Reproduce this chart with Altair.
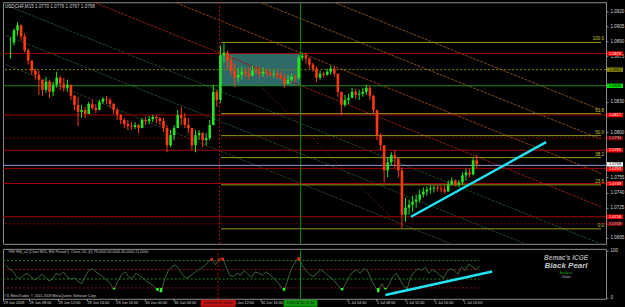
import altair as alt
import pandas as pd

FONT = "Liberation Sans"

# ---------------- data ----------------
# 30-minute bars, time in hours from 29 Jun 2009 00:00
T0 = 4.75
STEP = 0.5
closes = [1.0889, 1.0901, 1.0906, 1.0895, 1.0881, 1.0871, 1.0861, 1.0857, 1.0852, 1.0842,
          1.0850, 1.0840, 1.0847, 1.0854, 1.0848, 1.0844, 1.0847, 1.0836, 1.0827, 1.0820,
          1.0822, 1.0818, 1.0828, 1.0824, 1.0822, 1.0830, 1.0833, 1.0832, 1.0828, 1.0822,
          1.0817, 1.0812, 1.0808, 1.0806, 1.0805, 1.0807, 1.0804, 1.0812, 1.0811, 1.0813,
          1.0815, 1.0814, 1.0811, 1.0804, 1.0787, 1.0797, 1.0804, 1.0817, 1.0814, 1.0807,
          1.0804, 1.0787, 1.0797, 1.0799, 1.0792, 1.0794, 1.0807, 1.0840, 1.0832, 1.0876,
          1.0879, 1.0871, 1.0861, 1.0854, 1.0857, 1.0860, 1.0858, 1.0856, 1.0861, 1.0860,
          1.0858, 1.0860, 1.0859, 1.0857, 1.0858, 1.0856, 1.0854, 1.0848, 1.0852, 1.0855,
          1.0854, 1.0874, 1.0876, 1.0873, 1.0867, 1.0863, 1.0854, 1.0858, 1.0857, 1.0860,
          1.0863, 1.0858, 1.0840, 1.0827, 1.0832, 1.0834, 1.0840, 1.0837, 1.0838, 1.0840,
          1.0844, 1.0836, 1.0822, 1.0797, 1.0787, 1.0762, 1.0770, 1.0777, 1.0774, 1.0762,
          1.0718, 1.0725, 1.0728, 1.0731, 1.0733, 1.0738, 1.0741, 1.0743, 1.0744, 1.0745,
          1.0744, 1.0743, 1.0741, 1.0748, 1.0752, 1.0748, 1.0750, 1.0757, 1.0760, 1.0758,
          1.0772, 1.0768]
highs = [1.0894, 1.0903, 1.0909, 1.0907, 1.0898, 1.0883, 1.0871, 1.0863, 1.0861, 1.0852,
         1.0855, 1.0852, 1.0850, 1.0860, 1.0856, 1.0854, 1.0852, 1.0846, 1.0837, 1.0835,
         1.0827, 1.0825, 1.0830, 1.0832, 1.0828, 1.0832, 1.0835, 1.0836, 1.0834, 1.0829,
         1.0824, 1.0818, 1.0814, 1.0812, 1.0810, 1.0810, 1.0808, 1.0814, 1.0815, 1.0816,
         1.0817, 1.0817, 1.0815, 1.0814, 1.0807, 1.0802, 1.0807, 1.0822, 1.0825, 1.0819,
         1.0814, 1.0804, 1.0802, 1.0802, 1.0800, 1.0799, 1.0812, 1.0847, 1.0842, 1.0886,
         1.0888, 1.0881, 1.0876, 1.0868, 1.0864, 1.0865, 1.0864, 1.0865, 1.0866, 1.0866,
         1.0865, 1.0864, 1.0863, 1.0861, 1.0861, 1.0861, 1.0860, 1.0858, 1.0857, 1.0858,
         1.0857, 1.0876, 1.0879, 1.0879, 1.0874, 1.0869, 1.0865, 1.0861, 1.0860, 1.0863,
         1.0866, 1.0865, 1.0857, 1.0839, 1.0837, 1.0838, 1.0844, 1.0843, 1.0842, 1.0844,
         1.0847, 1.0846, 1.0837, 1.0819, 1.0799, 1.0780, 1.0775, 1.0780, 1.0782, 1.0774,
         1.0765, 1.0735, 1.0733, 1.0737, 1.0738, 1.0743, 1.0745, 1.0746, 1.0747, 1.0747,
         1.0747, 1.0747, 1.0747, 1.0752, 1.0755, 1.0753, 1.0752, 1.0760, 1.0764, 1.0764,
         1.0774, 1.0777]
lows = [1.0873, 1.0886, 1.0896, 1.0891, 1.0879, 1.0867, 1.0857, 1.0852, 1.0837, 1.0836,
        1.0839, 1.0834, 1.0836, 1.0844, 1.0842, 1.0840, 1.0840, 1.0832, 1.0822, 1.0806,
        1.0814, 1.0814, 1.0820, 1.0822, 1.0819, 1.0824, 1.0828, 1.0828, 1.0824, 1.0818,
        1.0812, 1.0808, 1.0804, 1.0802, 1.0802, 1.0803, 1.0799, 1.0805, 1.0807, 1.0808,
        1.0810, 1.0809, 1.0807, 1.0800, 1.0780, 1.0785, 1.0792, 1.0806, 1.0807, 1.0804,
        1.0799, 1.0782, 1.0780, 1.0792, 1.0785, 1.0787, 1.0792, 1.0817, 1.0825, 1.0829,
        1.0869, 1.0863, 1.0857, 1.0845, 1.0850, 1.0852, 1.0854, 1.0852, 1.0855, 1.0857,
        1.0854, 1.0855, 1.0855, 1.0855, 1.0854, 1.0853, 1.0852, 1.0844, 1.0849, 1.0850,
        1.0850, 1.0852, 1.0871, 1.0868, 1.0863, 1.0860, 1.0850, 1.0852, 1.0854, 1.0856,
        1.0857, 1.0855, 1.0835, 1.0817, 1.0825, 1.0828, 1.0834, 1.0833, 1.0832, 1.0835,
        1.0837, 1.0832, 1.0819, 1.0792, 1.0782, 1.0750, 1.0755, 1.0767, 1.0765, 1.0755,
        1.0705, 1.0711, 1.0718, 1.0721, 1.0725, 1.0730, 1.0735, 1.0737, 1.0739, 1.0740,
        1.0741, 1.0740, 1.0739, 1.0743, 1.0747, 1.0746, 1.0746, 1.0748, 1.0752, 1.0755,
        1.0757, 1.0764]
rsi = [70, 62, 58, 45, 40, 48, 52, 45, 38, 42,
       50, 44, 36, 40, 52, 48, 55, 45, 40, 42,
       35, 30, 45, 58, 62, 55, 50, 44, 38, 30,
       18, 35, 48, 55, 45, 40, 52, 48, 42, 36,
       30, 25, 15, 12, 40, 58, 66, 70, 60, 48,
       42, 46, 52, 58, 62, 68, 75, 84, 70, 82,
       85, 65, 48, 45, 52, 48, 58, 50, 44, 55,
       52, 48, 55, 50, 42, 35, 25, 15, 38, 62,
       75, 86, 70, 58, 50, 45, 52, 60, 55, 48,
       42, 35, 25, 16, 30, 45, 55, 60, 52, 62,
       58, 40, 25, 12, 30, 18, 28, 45, 52, 40,
       25, 20, 45, 55, 62, 58, 65, 52, 60, 55,
       48, 42, 55, 62, 58, 50, 65, 58, 72, 66,
       60, 68]

price_ticks = [1.0920, 1.0905, 1.0890, 1.0875, 1.0830, 1.0800, 1.0755, 1.0740, 1.0725, 1.0695]
time_ticks = [4.42, 8, 12, 16, 20, 24, 28, 36, 40, 52, 56, 60, 64, 68]

# horizontal levels
h_solid_p = [1.0878, 1.0846, 1.0817, 1.0782, 1.0764, 1.0749, 1.0716]
h_solid_c = ["#a00000", "#1e8c1e", "#a00000", "#a00000", "#a00000", "#a00000", "#a00000"]
h_dot_p = [1.0862, 1.0794, 1.0709]
h_dot_c = ["#8a8a00", "#800000", "#800000"]
bid_p = [1.0767]

# fibonacci
fib_hi, fib_lo = 1.0889, 1.0704
fib_levels = [100.0, 61.8, 50.0, 38.2, 23.6, 0.0]
fib_start = 34.34

# diagonal channel lines (t1, p1, t2, p2)
diag_p1 = [1.1060, 1.1030, 1.0996, 1.0964, 1.0926, 1.0896, 1.0867]
diag_p2 = [1.0822, 1.0793, 1.0759, 1.0726, 1.0689, 1.0659, 1.0629]
diag_c = ["#7a4a1e", "#7a4a1e", "#8a3c14", "#8c1e14", "#1e4628", "#1e4628", "#2a3a2a"]
diag_t = [4.14, 87.72]
steep_t = [39.59, 59.72]
steep_p = [1.0848, 1.0705]

# box
box_t = [34.11, 45.52]
box_p = [1.0878, 1.0846]

# vertical markers
vred_t = 34.11
vgreen_t = 45.52

# trend lines
trend_t = [61.01, 80.0]
trend_p = [1.0716, 1.0790]
rsi_trend_t = [57.24, 72.0]
rsi_trend_r = [6, 56]

# right-side price tags
tag_p = [1.0878, 1.0862, 1.0846, 1.0817, 1.0794, 1.0782, 1.0768, 1.0763, 1.0749, 1.0716, 1.0709]
tag_bg = ["#ff0000", "#8a8a00", "#00e000", "#ff0000", "#800000", "#ff0000", "#ffffff", "#ff0000", "#ff0000", "#ff0000", "#800000"]
tag_fg = ["#ffffff", "#000000", "#000000", "#ffffff", "#c0c0c0", "#ffffff", "#000000", "#ffffff", "#ffffff", "#ffffff", "#c0c0c0"]

# ---------------- tables ----------------
bars = pd.DataFrame({"t": [T0 + STEP * i for i in range(len(closes))], "c": closes, "h": highs, "l": lows})
bars["o"] = [closes[0]] + closes[:-1]
bars["h"] = bars[["h", "o", "c"]].max(axis=1)
bars["l"] = bars[["l", "o", "c"]].min(axis=1)
rsi_df = pd.DataFrame({"t": [T0 + STEP * i for i in range(len(rsi))], "r": rsi})

XDOM = [4.41, 87.72]
YDOM = [1.06891, 1.09289]
xs = alt.Scale(domain=XDOM, nice=False, zero=False)
ys = alt.Scale(domain=YDOM, nice=False, zero=False)
yax = alt.Axis(orient="right", values=price_ticks, format=".4f", labelFontSize=4.5,
               labelColor="#d8d8d8", labelFont=FONT, tickSize=2, tickColor="#808080",
               domain=False, grid=False, labelPadding=2, title=None)


def X(f):
    return alt.X(f"{f}:Q", scale=xs, axis=None)


def Y(f):
    return alt.Y(f"{f}:Q", scale=ys, axis=yax)


box = alt.Chart(pd.DataFrame({"t1": [box_t[0]], "t2": [box_t[1]], "p1": [box_p[0]], "p2": [box_p[1]]})).mark_rect(
    color="#33706e", opacity=0.95).encode(x=X("t1"), x2="t2", y=Y("p1"), y2="p2")

diag_df = pd.DataFrame({"p1": diag_p1, "p2": diag_p2, "c": diag_c})
diag_df["t1"] = diag_t[0]
diag_df["t2"] = diag_t[1]
diag = alt.Chart(diag_df).mark_rule(clip=True, strokeWidth=1, strokeDash=[3, 1]).encode(
    x=X("t1"), x2="t2", y=Y("p1"), y2="p2", color=alt.Color("c:N", scale=None))

steep = alt.Chart(pd.DataFrame({"t1": [steep_t[0]], "t2": [steep_t[1]], "p1": [steep_p[0]], "p2": [steep_p[1]]})).mark_rule(
    clip=True, strokeWidth=1, strokeDash=[1, 2], color="#8c1e1e").encode(x=X("t1"), x2="t2", y=Y("p1"), y2="p2")

hsolid = alt.Chart(pd.DataFrame({"p": h_solid_p, "c": h_solid_c})).mark_rule(strokeWidth=1).encode(
    y=Y("p"), color=alt.Color("c:N", scale=None))
hdot = alt.Chart(pd.DataFrame({"p": h_dot_p, "c": h_dot_c})).mark_rule(strokeWidth=1, strokeDash=[2, 2]).encode(
    y=Y("p"), color=alt.Color("c:N", scale=None))
bid = alt.Chart(pd.DataFrame({"p": bid_p})).mark_rule(strokeWidth=1, color="#9a96d8").encode(y=Y("p"))

fib_df = pd.DataFrame({"lev": fib_levels})
fib_df["p"] = fib_lo + fib_df["lev"] / 100.0 * (fib_hi - fib_lo)
fib_df["t1"] = fib_start
fib_df["t2"] = XDOM[1]
fib_df["lab"] = fib_df["lev"].map(lambda v: f"{v:.1f}")
fib = alt.Chart(fib_df).mark_rule(strokeWidth=1, color="#9a9a1a").encode(x=X("t1"), x2="t2", y=Y("p"))
fibtxt = alt.Chart(fib_df).mark_text(align="right", baseline="bottom", fontSize=4.5, font=FONT,
                                     color="#c8c832", dy=-1).encode(x=alt.value(602), y=Y("p"), text="lab:N")

vlines = alt.Chart(pd.DataFrame({"t": [vred_t]})).mark_rule(strokeDash=[2, 2], color="#b01010").encode(x=X("t"))
vlineg = alt.Chart(pd.DataFrame({"t": [vgreen_t]})).mark_rule(color="#0f8f0f").encode(x=X("t"))

color_cond = alt.condition("datum.c >= datum.o", alt.value("#22e622"), alt.value("#ff3a10"))
wick = alt.Chart(bars).mark_rule(strokeWidth=1).encode(x=X("t"), y=Y("l"), y2="h", color=color_cond)
body = alt.Chart(bars).mark_bar(size=2.6).encode(x=X("t"), y=Y("o"), y2="c", color=color_cond)

trend = alt.Chart(pd.DataFrame({"t1": [trend_t[0]], "t2": [trend_t[1]], "p1": [trend_p[0]], "p2": [trend_p[1]]})).mark_rule(
    strokeWidth=2.5, color="#20e4f4").encode(x=X("t1"), x2="t2", y=Y("p1"), y2="p2")

tags_df = pd.DataFrame({"p": tag_p, "bg": tag_bg, "fg": tag_fg})
tags_df["pa"] = tags_df["p"] + 0.00022
tags_df["pb"] = tags_df["p"] - 0.00022
tags_df["lab"] = tags_df["p"].map(lambda v: f"{v:.4f}")
tags = alt.Chart(tags_df).mark_rect(clip=False).encode(
    x=alt.value(605), x2=alt.value(621), y=Y("pa"), y2="pb", color=alt.Color("bg:N", scale=None))
tagtxt = alt.Chart(tags_df).mark_text(clip=False, fontSize=4.0, font=FONT, align="center", baseline="middle").encode(
    x=alt.value(613), y=Y("p"), text="lab:N", color=alt.Color("fg:N", scale=None))

title = alt.Chart(pd.DataFrame({"s": ["USDCHF,M15  1.0770 1.0776 1.0767 1.0768"]})).mark_text(
    align="left", baseline="top", fontSize=4.6, font=FONT, color="#d0d0d0").encode(
    x=alt.value(2), y=alt.value(2), text="s:N")

main = alt.layer(box, diag, steep, hsolid, hdot, fib, vlines, vlineg, bid, wick, body, trend,
                 fibtxt, tags, tagtxt, title).properties(width=604, height=242)

# ---------------- RSI panel ----------------
rxs = xs
rys = alt.Scale(domain=[-2, 104], nice=False, zero=False)
ryax = alt.Axis(orient="right", values=[0, 100], labelFontSize=4.5, labelColor="#d8d8d8", labelFont=FONT,
                tickSize=2, tickColor="#808080", domain=False, grid=False, labelPadding=2, title=None)
label_expr = ("datum.value < 6 ? '29 Jun 2009' : ((datum.value < 24 ? '29 Jun ' : (datum.value < 48 ? '30 Jun ' : '1 Jul '))"
              " + (datum.value % 24 < 10 ? '0' : '') + (datum.value % 24) + ':00')")
xax = alt.Axis(values=time_ticks, labelExpr=label_expr, labelAlign="left", labelFontSize=3.8, labelFont=FONT,
               labelColor="#d8d8d8", tickSize=2, tickColor="#a0a0a0", labelPadding=0, domain=False, grid=False,
               labelOverlap=False, labelFlush=False, labelBound=False, title=None)

levels = pd.DataFrame({"r": [79, 60, 40, 21], "c": ["#1e8c1e", "#8c1414", "#1e8c1e", "#8c1414"]})
levels["t1"] = XDOM[0]
levels["t2"] = rsi_df["t"].iloc[-1]
lev = alt.Chart(levels).mark_rule(strokeDash=[2, 2], strokeWidth=1).encode(
    x=alt.X("t1:Q", scale=rxs, axis=xax), x2="t2", y=alt.Y("r:Q", scale=rys, axis=ryax),
    color=alt.Color("c:N", scale=None))
rline = alt.Chart(rsi_df).mark_line(strokeWidth=1, color="#3a623a").encode(
    x=alt.X("t:Q", scale=rxs, axis=xax), y=alt.Y("r:Q", scale=rys, axis=ryax))
rhi = alt.Chart(rsi_df).transform_filter("datum.r > 79").mark_rule(strokeWidth=2.5, color="#ff2020").encode(
    x=alt.X("t:Q", scale=rxs, axis=xax), y=alt.Y("r:Q", scale=rys, axis=ryax), y2=alt.datum(79))
rlo = alt.Chart(rsi_df).transform_filter("datum.r < 21").mark_rule(strokeWidth=2.5, color="#30f030").encode(
    x=alt.X("t:Q", scale=rxs, axis=xax), y=alt.Y("r:Q", scale=rys, axis=ryax), y2=alt.datum(21))
rv1 = alt.Chart(pd.DataFrame({"t": [vred_t]})).mark_rule(strokeDash=[2, 2], color="#b01010").encode(
    x=alt.X("t:Q", scale=rxs, axis=xax))
rv2 = alt.Chart(pd.DataFrame({"t": [vgreen_t]})).mark_rule(color="#0f8f0f").encode(x=alt.X("t:Q", scale=rxs, axis=xax))
rtrend = alt.Chart(pd.DataFrame({"t1": [rsi_trend_t[0]], "t2": [rsi_trend_t[1]], "r1": [rsi_trend_r[0]],
                                 "r2": [rsi_trend_r[1]]})).mark_rule(strokeWidth=2.5, color="#20e4f4").encode(
    x=alt.X("t1:Q", scale=rxs, axis=xax), x2="t2", y=alt.Y("r1:Q", scale=rys, axis=ryax), y2="r2")

# time boxes below the axis
tbox = pd.DataFrame({"t1": [31.72, 43.17], "t2": [36.55, 47.86], "bg": ["#c01010", "#109a10"],
                     "lab": ["2009.06.30 10:00", "2009.06.30 21:30"]})
tboxr = alt.Chart(tbox).mark_rect(clip=False).encode(
    x=alt.X("t1:Q", scale=rxs, axis=xax), x2="t2", y=alt.value(51), y2=alt.value(58),
    color=alt.Color("bg:N", scale=None))
tboxt = alt.Chart(tbox).transform_calculate(tm="(datum.t1 + datum.t2) / 2").mark_text(
    clip=False, fontSize=3.6, font=FONT, color="#101010", baseline="middle").encode(
    x=alt.X("tm:Q", scale=rxs, axis=xax), y=alt.value(54.5), text="lab:N")

texts = pd.DataFrame({
    "s": ["THV RSI_v2  (Chart M15,  RSI Period 5,  Close,  05,  (0)    79.0000 60.0000 40.0000 21.0000",
          "©3, MetaTrader, © 2001-2009 MetaQuotes Software Corp."],
    "x": [5, 1], "y": [3, 47]})
rtext = alt.Chart(texts).mark_text(align="left", baseline="middle", fontSize=3.6, font=FONT, color="#c8c8c8").encode(
    x=alt.X("x:Q", scale=None), y=alt.Y("y:Q", scale=None), text="s:N")

wm_bold = pd.DataFrame({"s": ["Bemac's ICGE", "Black Pearl"], "y": [9.5, 17], "fs": [6.5, 8],
                        "c": ["#a8a8a8", "#c8c8c8"]})
wm_small = pd.DataFrame({"s": ["Analysis", "Chart"], "y": [24.2, 28.2], "fs": [3.6, 3.6], "c": ["#10a010", "#c0c0c0"]})
wmt1 = alt.Chart(wm_bold).mark_text(align="center", baseline="middle", font=FONT, fontStyle="italic",
                                    fontWeight="bold").encode(
    x=alt.value(564), y=alt.Y("y:Q", scale=None), text="s:N", size=alt.Size("fs:Q", scale=None),
    color=alt.Color("c:N", scale=None))
wmt2 = alt.Chart(wm_small).mark_text(align="center", baseline="middle", font=FONT).encode(
    x=alt.value(564), y=alt.Y("y:Q", scale=None), text="s:N", size=alt.Size("fs:Q", scale=None),
    color=alt.Color("c:N", scale=None))

rsi_chart = alt.layer(lev, rline, rhi, rlo, rv1, rv2, rtrend, tboxr, tboxt, rtext, wmt1, wmt2).properties(
    width=604, height=50)

chart = alt.vconcat(main, rsi_chart, spacing=2).configure(
    background="#000000", padding={"left": 2, "top": 1, "right": 0, "bottom": 0}
).configure_view(stroke="#8c8c8c", strokeWidth=1)

chart.save("out.html", embed_options={"renderer": "svg", "actions": False})
